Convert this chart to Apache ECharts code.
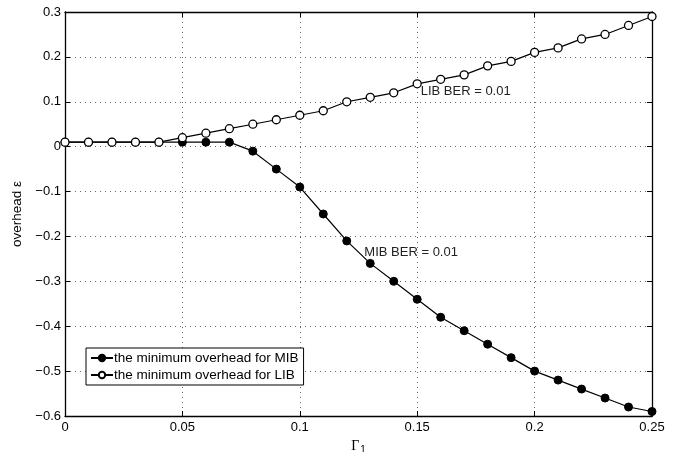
<!DOCTYPE html>
<html>
  <head>
    <meta charset="utf-8" />
    <title>minimum overhead</title>
    <script src="https://cdn.jsdelivr.net/npm/echarts@6/dist/echarts.min.js"></script>
    <style>
      html, body { margin: 0; padding: 0; background: #fff; }
      #chart { width: 676px; height: 452px; }
    </style>
  </head>
  <body>
    <div id="chart"></div>
    <script type="text/javascript">
      "use strict";

      // Gamma_1 values (x)
      var gamma = [0, 0.01, 0.02, 0.03, 0.04, 0.05, 0.06, 0.07, 0.08, 0.09, 0.1, 0.11, 0.12,
        0.13, 0.14, 0.15, 0.16, 0.17, 0.18, 0.19, 0.2, 0.21, 0.22, 0.23, 0.24, 0.25];

      // minimum overhead for MIB
      var mibOverhead = [0.01, 0.01, 0.01, 0.01, 0.01, 0.01, 0.01, 0.01, -0.01, -0.05, -0.09, -0.15, -0.21,
        -0.26, -0.30, -0.34, -0.38, -0.41, -0.44, -0.47, -0.50, -0.52, -0.54, -0.56, -0.58, -0.59];

      // minimum overhead for LIB
      var libOverhead = [0.01, 0.01, 0.01, 0.01, 0.01, 0.02, 0.03, 0.04, 0.05, 0.06, 0.07, 0.08, 0.10,
        0.11, 0.12, 0.14, 0.15, 0.16, 0.18, 0.19, 0.21, 0.22, 0.24, 0.25, 0.27, 0.29];

      var seriesNames = ["the minimum overhead for MIB", "the minimum overhead for LIB"];
      var xTicks = [0, 0.05, 0.1, 0.15, 0.2, 0.25];

      // text notes: [x, y, text]
      var notes = [
        [0.1515, 0.124, "LIB BER = 0.01"],
        [0.1275, -0.235, "MIB BER = 0.01"],
      ];

      var font = "Liberation Sans, Arial, Helvetica, sans-serif";

      function pairs(xs, ys) {
        return xs.map(function (x, i) { return [x, ys[i]]; });
      }

      function yFmt(v) {
        if (Math.abs(v) < 1e-9) return "0";
        return String(+v.toFixed(1)).replace("-", "\u2212");
      }

      var chart = echarts.init(document.getElementById("chart"), null, { renderer: "canvas" });

      var dotted = { show: true, lineStyle: { color: "#666", type: [1, 4], width: 1 } };
      var axisLine = { show: true, onZero: false, lineStyle: { color: "#000", width: 1.3 } };
      var tick = { show: true, inside: true, length: 5, lineStyle: { color: "#000" } };

      var option = {
        animation: false,
        backgroundColor: "#fff",
        textStyle: { fontFamily: font },
        grid: { left: 65, right: 24, top: 12, bottom: 36, containLabel: false, outerBoundsMode: "none" },
        xAxis: [
          {
            type: "value",
            min: 0,
            max: 0.25,
            interval: 0.05,
            axisLine: axisLine,
            axisTick: tick,
            splitLine: dotted,
            axisLabel: {
              color: "#000",
              fontSize: 13,
              margin: 5,
              formatter: function (v) {
                var t = xTicks.filter(function (k) { return Math.abs(k - v) < 1e-9; });
                return t.length ? String(t[0]) : "";
              },
            },
            name: "{g|\u0393}{s|1}",
            nameLocation: "middle",
            nameGap: 13,
            nameTextStyle: {
              rich: {
                g: { fontSize: 14, color: "#000", fontFamily: "Liberation Serif, serif" },
                s: { fontSize: 10, color: "#000", fontFamily: font, verticalAlign: "bottom", padding: [9, 0, 0, 1] },
              },
            },
          },
          {
            type: "value",
            position: "top",
            min: 0,
            max: 0.25,
            interval: 0.05,
            axisLine: axisLine,
            axisTick: tick,
            axisLabel: { show: false },
            splitLine: { show: false },
          },
        ],
        yAxis: [
          {
            type: "value",
            min: -0.6,
            max: 0.3,
            interval: 0.1,
            axisLine: axisLine,
            axisTick: tick,
            splitLine: dotted,
            axisLabel: { color: "#000", fontSize: 13, margin: 4, formatter: yFmt },
            name: "overhead \u03B5",
            nameLocation: "middle",
            nameGap: 39,
            nameRotate: 90,
            nameTextStyle: { color: "#000", fontSize: 13.5, fontFamily: font },
          },
          {
            type: "value",
            position: "right",
            min: -0.6,
            max: 0.3,
            interval: 0.1,
            axisLine: axisLine,
            axisTick: tick,
            axisLabel: { show: false },
            splitLine: { show: false },
          },
        ],
        legend: {
          orient: "vertical",
          left: 86,
          top: 348,
          itemWidth: 22,
          itemHeight: 8,
          itemGap: 3,
          padding: [3, 5, 3, 4],
          borderColor: "#000",
          borderWidth: 1,
          backgroundColor: "#fff",
          textStyle: { color: "#000", fontSize: 13.5, fontFamily: font, padding: [0, 0, 0, -4] },
          data: seriesNames,
        },
        series: [
          {
            name: seriesNames[0],
            type: "line",
            data: pairs(gamma, mibOverhead),
            symbol: "circle",
            symbolSize: 8,
            lineStyle: { color: "#000", width: 1.2 },
            itemStyle: { color: "#000", borderColor: "#000", borderWidth: 1 },
            z: 3,
          },
          {
            name: seriesNames[1],
            type: "line",
            data: pairs(gamma, libOverhead),
            symbol: "circle",
            symbolSize: 8,
            lineStyle: { color: "#000", width: 1.2 },
            itemStyle: { color: "#fff", borderColor: "#000", borderWidth: 1.3 },
            z: 4,
          },
        ],
      };

      chart.setOption(option);

      // place the text notes at data coordinates
      chart.setOption({
        graphic: notes.map(function (n) {
          var p = chart.convertToPixel({ gridIndex: 0 }, [n[0], n[1]]);
          return {
            type: "text",
            x: p[0],
            y: p[1],
            style: { text: n[2], fill: "#222", font: "13px " + font, textVerticalAlign: "middle" },
            z: 10,
          };
        }),
      });
    </script>
  </body>
</html>
